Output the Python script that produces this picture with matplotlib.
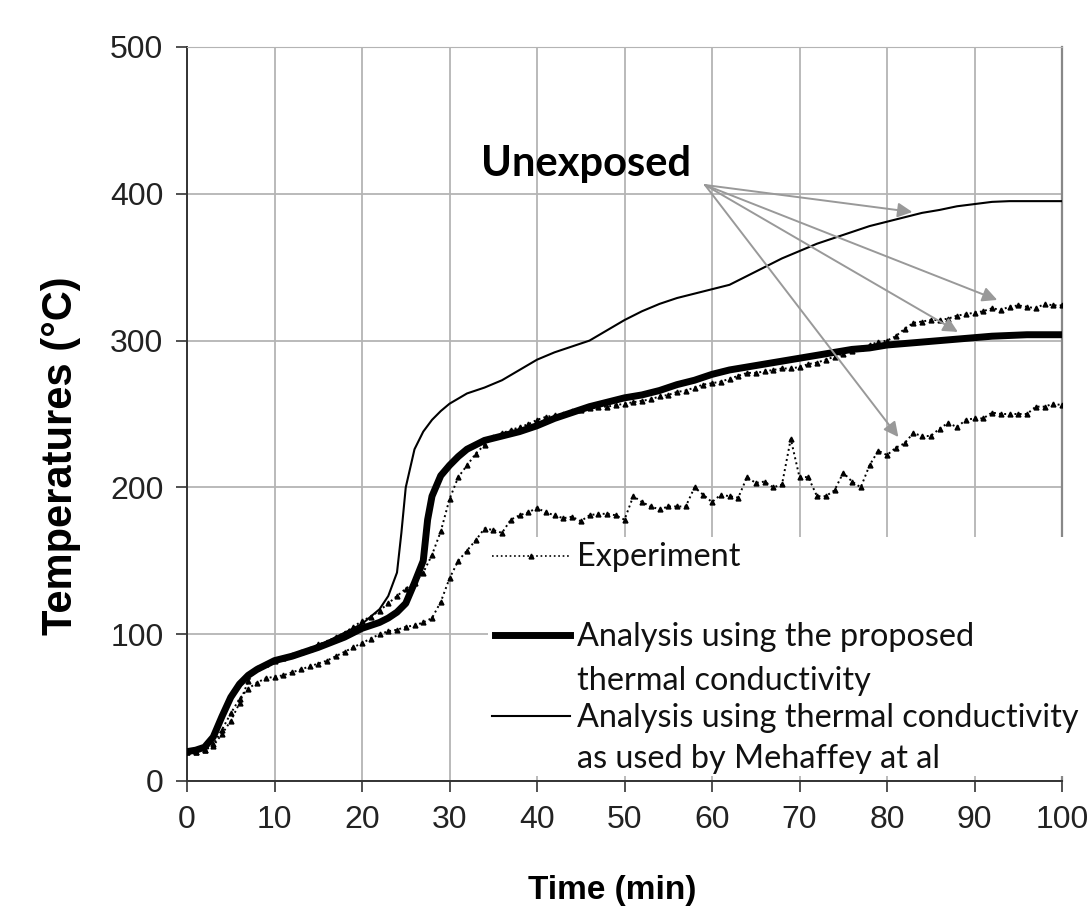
import matplotlib
matplotlib.use("Agg")
import matplotlib.pyplot as plt
from matplotlib.lines import Line2D
from matplotlib.patches import Rectangle

# ---------- data ----------
exp_time = list(range(0, 101))
exp_upper = [20, 20, 21, 24, 32, 41, 53, 68, 77, 80,
             82, 84, 86, 88, 90, 93, 95, 98, 101, 105,
             109, 112, 116, 121, 126, 131, 135, 142, 154, 170,
             192, 207, 215, 223, 229, 234, 237, 239, 241, 243,
             246, 248, 249, 250, 252, 253, 254, 255, 255, 256,
             257, 258, 259, 260, 262, 263, 265, 266, 268, 270,
             271, 272, 274, 276, 278, 278, 279, 280, 281, 281,
             282, 284, 285, 287, 289, 291, 293, 295, 297, 299,
             300, 303, 308, 312, 313, 314, 314, 315, 317, 318,
             319, 320, 322, 321, 323, 324, 323, 322, 325, 324, 324]
exp_lower = [20, 20, 21, 25, 35, 46, 56, 63, 67, 70,
             71, 72, 74, 76, 78, 80, 82, 85, 88, 91,
             94, 97, 100, 102, 103, 105, 106, 108, 111, 122,
             138, 150, 157, 164, 172, 171, 169, 178, 181, 183,
             186, 183, 181, 179, 180, 177, 181, 182, 182, 181,
             178, 194, 190, 187, 185, 187, 187, 187, 200, 195,
             190, 195, 194, 193, 207, 203, 204, 200, 202, 233,
             207, 207, 194, 194, 198, 210, 204, 200, 215, 225,
             222, 227, 230, 237, 235, 235, 240, 244, 241, 246,
             247, 247, 251, 250, 250, 250, 250, 255, 255, 257, 256]

prop_time = [0, 1, 2, 3, 4, 5, 6, 7, 8, 10, 12, 15, 18, 20, 22, 23, 24, 25, 26,
             27, 27.5, 28, 29, 30, 31, 32, 34, 36, 38, 40, 42, 44, 46, 48, 50,
             52, 54, 56, 58, 60, 62, 64, 66, 68, 70, 72, 74, 76, 78, 80, 82, 84,
             86, 88, 90, 92, 94, 96, 98, 100]
prop_temp = [20, 21, 23, 30, 44, 57, 66, 72, 76, 82, 85, 91, 98, 104, 108, 111,
             115, 121, 135, 150, 178, 194, 208, 215, 221, 226, 232, 235, 238, 242,
             247, 251, 255, 258, 261, 263, 266, 270, 273, 277, 280, 282, 284, 286,
             288, 290, 292, 294, 295, 297, 298, 299, 300, 301, 302, 303, 303.5, 304,
             304, 304]

meh_time = [0, 2, 3, 4, 5, 6, 8, 10, 15, 18, 20, 21, 22, 23, 24, 24.5, 25, 26,
            27, 28, 29, 30, 32, 34, 36, 38, 40, 42, 44, 46, 48, 50, 52, 54, 56,
            58, 60, 62, 64, 66, 68, 70, 72, 74, 76, 78, 80, 82, 84, 86, 88, 90,
            92, 94, 96, 98, 100]
meh_temp = [20, 22, 29, 43, 56, 65, 76, 82, 92, 101, 107, 112, 117, 126, 142,
            169, 200, 226, 238, 246, 252, 257, 264, 268, 273, 280, 287, 292, 296,
            300, 307, 314, 320, 325, 329, 332, 335, 338, 344, 350, 356, 361, 366,
            370, 374, 378, 381, 384, 387, 389, 391.5, 393, 394.5, 395, 395, 395, 395]

# annotation "Unexposed" and its arrows
arrow_start = (59.2, 406)
arrow_ends = [(82.9, 387.6), (92.6, 327.7), (88.1, 305.9), (81.3, 234.3)]

W, H = 1090, 907
fig = plt.figure(figsize=(W / 100, H / 100), dpi=100)
ax = fig.add_axes([187 / W, 1 - 781 / H, 875 / W, 734 / H])

ax.plot(exp_time, exp_upper, color="black", ls=":", lw=1.4, marker="^", ms=3.5, zorder=3)
ax.plot(exp_time, exp_lower, color="black", ls=":", lw=1.4, marker="^", ms=3.5, zorder=3)
ax.plot(prop_time, prop_temp, color="black", lw=5, solid_capstyle="butt", zorder=4)
ax.plot(meh_time, meh_temp, color="black", lw=1.5, zorder=4)

ax.set_xlim(0, 100)
ax.set_ylim(0, 500)
ax.set_xticks(range(0, 101, 10))
ax.set_yticks(range(0, 501, 100))
ax.grid(True, color="#b4b4b4", lw=1.3)
ax.set_axisbelow(True)
for s in ["left", "bottom"]:
    ax.spines[s].set_color("#333333")
    ax.spines[s].set_linewidth(1.4)
ax.spines["top"].set_color("#b4b4b4")
ax.spines["right"].set_color("#888888")
ax.spines["right"].set_linewidth(1.6)
ax.tick_params(length=8, width=1.2, color="#333333", labelsize=23, pad=9)
for lab in ax.get_xticklabels() + ax.get_yticklabels():
    lab.set_fontfamily("Liberation Sans")
    lab.set_color("#222222")

ax.set_ylabel("Temperatures (°C)", fontsize=30, fontweight="bold",
              family="Liberation Sans")
ax.yaxis.set_label_coords(-0.121, 0.443)
ax.set_xlabel("Time (min)", fontsize=24, fontweight="bold",
              family="Liberation Sans")
ax.xaxis.set_label_coords(0.486, -0.128)

ax.text(45.6, 420, "Unexposed", fontsize=30, fontweight="bold", family="Lato",
        ha="center", va="center", zorder=1)
for end in arrow_ends:
    ax.annotate("", xy=end, xytext=arrow_start,
                arrowprops=dict(arrowstyle="-|>", color="#999999", lw=1.4,
                                mutation_scale=22, shrinkA=0, shrinkB=0),
                zorder=5)

# ---------- legend block drawn by hand (white box over the grid) ----------
def fx(px):
    return px / W

def fy(py):
    return 1 - py / H

fig.add_artist(Rectangle((fx(488), fy(776)), fx(602), 239 / H, transform=fig.transFigure,
                         facecolor="white", edgecolor="none", zorder=5))
fig.add_artist(Line2D([fx(492), fx(570)], [fy(556), fy(556)], transform=fig.transFigure,
                      color="black", ls=":", lw=1.2, zorder=6))
fig.add_artist(Line2D([fx(531)], [fy(556)], transform=fig.transFigure,
                      color="black", marker="^", ms=3.5, zorder=6))
fig.add_artist(Line2D([fx(495), fx(570)], [fy(635), fy(635)], transform=fig.transFigure,
                      color="black", lw=5, zorder=6))
fig.add_artist(Line2D([fx(492), fx(570)], [fy(716), fy(716)], transform=fig.transFigure,
                      color="black", lw=1.5, zorder=6))

leg_lines = [("Experiment", 566), ("Analysis using the proposed", 646),
             ("thermal conductivity", 690), ("Analysis using thermal conductivity", 727),
             ("as used by Mehaffey at al", 768)]
for txt, base in leg_lines:
    fig.text(fx(577), fy(base), txt, fontsize=23.3, family="Lato", color="#111111",
             va="baseline", ha="left", zorder=7)

fig.savefig("out.png", dpi=100)
